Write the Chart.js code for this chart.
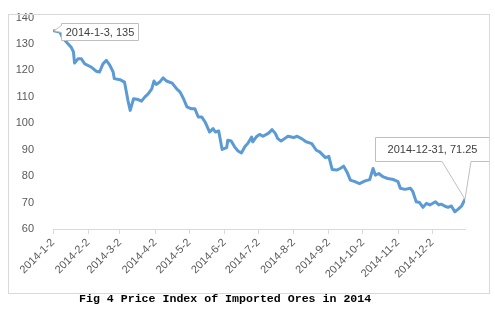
<!DOCTYPE html>
<html>
<head>
<meta charset="utf-8">
<script src="https://cdn.jsdelivr.net/npm/chart.js@4.4.1/dist/chart.umd.min.js"></script>
<style>
  html, body { margin: 0; padding: 0; background: #fff; }
  #wrap { position: relative; width: 495px; height: 324px; overflow: hidden; }
  #c { position: absolute; left: 0; top: 0; }
  #frame { position: absolute; left: 8px; top: 14px; width: 480px; height: 278px; border: 1px solid #d9d9d9; pointer-events: none; }
  #caption { position: absolute; left: 79px; top: 293px; font-family: "Liberation Mono", "DejaVu Sans Mono", monospace; font-weight: bold; font-size: 11.6px; line-height: 12px; color: #000; white-space: pre; }
</style>
</head>
<body>
<div id="wrap">
  <canvas id="c" width="495" height="324"></canvas>
  <div id="frame"></div>
  <div id="caption">Fig 4 Price Index of Imported Ores in 2014</div>
</div>
<script>
// ---- data ----
const dates = [
  "2014-1-3","2014-1-8","2014-1-11","2014-1-14","2014-1-18","2014-1-20","2014-1-21","2014-1-24","2014-1-27","2014-1-30",
  "2014-2-5","2014-2-9","2014-2-12","2014-2-15","2014-2-18","2014-2-21","2014-2-24","2014-2-25",
  "2014-3-2","2014-3-6","2014-3-9","2014-3-11","2014-3-14","2014-3-18","2014-3-21","2014-3-24","2014-3-27","2014-3-30",
  "2014-4-1","2014-4-3","2014-4-6","2014-4-9","2014-4-12","2014-4-17","2014-4-21","2014-4-24","2014-4-27","2014-4-30",
  "2014-5-4","2014-5-7","2014-5-10","2014-5-13","2014-5-16","2014-5-20","2014-5-23","2014-5-25","2014-5-28","2014-5-31",
  "2014-6-4","2014-6-5","2014-6-8","2014-6-11","2014-6-14","2014-6-17","2014-6-20","2014-6-23","2014-6-26","2014-6-27","2014-6-30",
  "2014-7-3","2014-7-6","2014-7-11","2014-7-14","2014-7-17","2014-7-19","2014-7-22","2014-7-25","2014-7-28",
  "2014-8-2","2014-8-5","2014-8-9","2014-8-13","2014-8-18","2014-8-22","2014-8-25","2014-8-30",
  "2014-9-2","2014-9-5","2014-9-9","2014-9-12","2014-9-15","2014-9-18","2014-9-21","2014-9-25","2014-9-29",
  "2014-10-4","2014-10-8","2014-10-11","2014-10-13","2014-10-16","2014-10-20","2014-10-24","2014-10-29",
  "2014-11-2","2014-11-4","2014-11-8","2014-11-13","2014-11-15","2014-11-18","2014-11-21","2014-11-24","2014-11-27","2014-11-30",
  "2014-12-5","2014-12-8","2014-12-10","2014-12-13","2014-12-16","2014-12-19","2014-12-22","2014-12-25","2014-12-28","2014-12-31"
];
const priceIndex = [
  135,134.5,132,130.7,128.8,127,122.8,124.4,124.4,122.5,
  121.2,119.7,119.4,122.5,123.8,122,119.4,116.9,
  116.5,115.6,108.7,104.9,109.3,109,108.4,110,111.2,113,
  116,114.7,115.6,117.2,116,115.2,113,111.8,109.3,106.2,
  105.5,105.5,102.4,102.4,100.5,96.7,98,96.7,97.1,90.1,
  90.8,93.6,93.3,91.1,89.5,88.8,91.1,92.6,94.8,93,94.8,
  95.8,95.1,96.3,97.6,96.1,94.2,93.3,94.2,95.1,
  94.6,95.1,94.2,93,92.3,89.8,89.2,87,
  87.5,82.5,82.3,82.9,83.8,81.6,78.5,77.9,77.2,
  78.2,78.7,82.9,80.4,81,79.7,79.1,78.7,
  77.9,75.4,75,75.4,74.2,70.3,70,68.2,69.7,69.1,
  70.3,69.1,69.4,68.7,68.2,68.7,66.5,67.5,68.7,71.25
];
const tickDates = ["2014-1-2","2014-2-2","2014-3-2","2014-4-2","2014-5-2","2014-6-2","2014-7-2","2014-8-2","2014-9-2","2014-10-2","2014-11-2","2014-12-2"];
const axisStart = "2014-1-2";
const axisEnd = "2014-12-31";
const yMin = 60, yMax = 140, yStep = 10;
const callouts = ["2014-1-3, 135", "2014-12-31, 71.25"];

// ---- helpers ----
function dayNum(s) {
  const p = s.split("-").map(Number);
  return Math.round((Date.UTC(p[0], p[1] - 1, p[2]) - Date.UTC(2014, 0, 2)) / 86400000);
}
const points = dates.map((d, i) => ({ x: dayNum(d), y: priceIndex[i] }));
const tickValues = tickDates.map(dayNum);

const FONT = '"Liberation Sans", Arial, sans-serif';

const calloutPlugin = {
  id: 'callouts',
  afterDatasetsDraw(chart) {
    const ctx = chart.ctx;
    const meta = chart.getDatasetMeta(0);
    const p0 = meta.data[0];
    const pN = meta.data[meta.data.length - 1];
    ctx.save();
    ctx.lineWidth = 1;
    ctx.strokeStyle = '#bfbfbf';
    ctx.fillStyle = '#ffffff';
    // first callout: box to the right, wedge on the left edge
    {
      const L = Math.round(p0.x + 7) + 0.5, T = Math.round(p0.y - 8) + 0.5, W = 77, H = 17;
      ctx.beginPath();
      ctx.moveTo(L, T);
      ctx.lineTo(L + W, T);
      ctx.lineTo(L + W, T + H);
      ctx.lineTo(L, T + H);
      ctx.lineTo(L, T + 9);
      ctx.lineTo(p0.x, p0.y);
      ctx.lineTo(L, T + 2);
      ctx.closePath();
      ctx.fill();
      ctx.stroke();
      ctx.fillStyle = '#404040';
      ctx.font = '11px ' + FONT;
      ctx.textAlign = 'center';
      ctx.textBaseline = 'middle';
      ctx.fillText(callouts[0], L + W / 2, T + H / 2 + 0.5);
    }
    // last callout: box above-left, wedge from bottom edge
    {
      ctx.fillStyle = '#ffffff';
      const L = Math.round(pN.x - 90) + 0.5, T = Math.round(pN.y - 62) + 0.5, W = 114, H = 24;
      ctx.beginPath();
      ctx.moveTo(L, T);
      ctx.lineTo(L + W, T);
      ctx.lineTo(L + W, T + H);
      ctx.lineTo(pN.x + 6, T + H);
      ctx.lineTo(pN.x, pN.y);
      ctx.lineTo(pN.x - 23, T + H);
      ctx.lineTo(L, T + H);
      ctx.closePath();
      ctx.fill();
      ctx.stroke();
      ctx.fillStyle = '#404040';
      ctx.font = '11px ' + FONT;
      ctx.textAlign = 'center';
      ctx.textBaseline = 'middle';
      ctx.fillText(callouts[1], L + W / 2, T + H / 2 + 0.5);
    }
    ctx.restore();
  }
};

new Chart(document.getElementById('c'), {
  type: 'line',
  data: {
    datasets: [{
      data: points,
      borderColor: '#5b9bd5',
      borderWidth: 3,
      pointRadius: 0,
      tension: 0,
      borderJoinStyle: 'round',
      borderCapStyle: 'round',
      fill: false
    }]
  },
  options: {
    responsive: false,
    animation: false,
    events: [],
    layout: { padding: { top: 17, right: 30, left: 0, bottom: 0 } },
    plugins: { legend: { display: false }, tooltip: { enabled: false } },
    scales: {
      x: {
        type: 'linear',
        min: dayNum(axisStart),
        max: dayNum(axisEnd),
        afterBuildTicks(scale) { scale.ticks = tickValues.map(v => ({ value: v })); },
        afterFit(scale) { scale.height = 95; },
        ticks: {
          autoSkip: false,
          minRotation: 45,
          maxRotation: 45,
          padding: 2,
          color: '#595959',
          font: { family: FONT, size: 11 },
          callback: (v, i) => tickDates[i]
        },
        grid: { drawOnChartArea: false, drawTicks: true, tickLength: 5, color: '#d9d9d9' },
        border: { display: true, color: '#d9d9d9', width: 1 }
      },
      y: {
        min: yMin,
        max: yMax,
        afterFit(scale) { scale.width = 53; },
        ticks: {
          stepSize: yStep,
          padding: 11,
          color: '#595959',
          font: { family: FONT, size: 11 }
        },
        grid: { display: false },
        border: { display: false }
      }
    }
  },
  plugins: [calloutPlugin]
});
</script>
</body>
</html>
